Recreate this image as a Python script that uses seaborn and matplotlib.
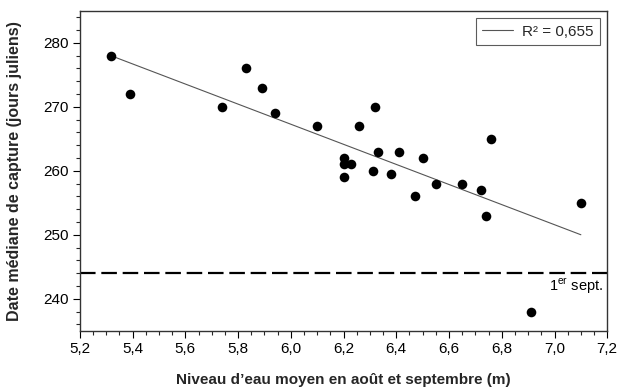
import matplotlib
matplotlib.use("Agg")
import matplotlib.pyplot as plt
import seaborn as sns
import pandas as pd
import numpy as np
from matplotlib.ticker import MultipleLocator, FuncFormatter

sns.set_theme(style="white")
plt.rcParams['font.family'] = ['Liberation Sans', 'DejaVu Sans']
plt.rcParams['mathtext.fontset'] = 'custom'
plt.rcParams['mathtext.rm'] = 'Liberation Sans'

# Data
niveau = [5.32, 5.39, 5.74, 5.83, 5.89, 5.94, 6.10, 6.20, 6.20, 6.20, 6.23,
          6.26, 6.31, 6.32, 6.33, 6.38, 6.41, 6.47, 6.50, 6.55, 6.65, 6.72,
          6.74, 6.76, 7.10, 6.91]
date_mediane = [278, 272, 270, 276, 273, 269, 267, 262, 261, 259, 261,
                267, 260, 270, 263, 259.5, 263, 256, 262, 258, 258, 257,
                253, 265, 255, 238]

sept_1 = 244
r2_label = "R² = 0,655"
x_ticks = [5.2, 5.4, 5.6, 5.8, 6.0, 6.2, 6.4, 6.6, 6.8, 7.0, 7.2]
y_ticks = [240, 250, 260, 270, 280]

df = pd.DataFrame({"niveau": niveau, "date": date_mediane})

fig = plt.figure(figsize=(6.19, 3.87), dpi=100)
ax = fig.add_axes([0.129, 0.145, 0.852, 0.827])

sns.regplot(data=df, x="niveau", y="date", ci=None, truncate=True,
            scatter=False, ax=ax,
            line_kws=dict(color="#555555", lw=0.8))
fit_line = ax.lines[-1]
sns.scatterplot(data=df, x="niveau", y="date", ax=ax, color="black",
                s=48, edgecolor="black", linewidth=0, zorder=3)

ax.axhline(sept_1, color="black", lw=1.6, dashes=(7, 2.6))
ax.text(7.185, sept_1 - 0.5, "1$^{\\mathrm{er}}$ sept.", ha="right", va="top",
        fontsize=10.5, color="black")

ax.set_xlim(5.2, 7.2)
ax.set_ylim(235, 285)
ax.set_xticks(x_ticks)
ax.set_yticks(y_ticks)
ax.xaxis.set_minor_locator(MultipleLocator(0.05))
ax.yaxis.set_minor_locator(MultipleLocator(2))
ax.xaxis.set_major_formatter(FuncFormatter(lambda v, p: f"{v:.1f}".replace(".", ",")))

ax.tick_params(axis="both", which="major", direction="out", length=5, width=0.8,
               labelsize=11, colors="black", bottom=True, left=True, pad=3)
ax.tick_params(axis="both", which="minor", direction="out", length=3, width=0.8,
               bottom=True, left=True)
for sp in ax.spines.values():
    sp.set_color("#333333")
    sp.set_linewidth(1.0)

ax.set_xlabel("Niveau d’eau moyen en août et septembre (m)", fontsize=11,
              fontweight="bold", labelpad=12)
ax.set_ylabel("Date médiane de capture (jours juliens)", fontsize=11.5,
              fontweight="bold", labelpad=15)

leg = ax.legend([fit_line], [r2_label], loc="upper right", frameon=True,
                fancybox=False, fontsize=11, handlelength=2.0, borderpad=0.4,
                borderaxespad=0.5, handletextpad=0.6)
leg.get_frame().set_edgecolor("#333333")
leg.get_frame().set_linewidth(0.8)

fig.savefig("out.png", dpi=100)
